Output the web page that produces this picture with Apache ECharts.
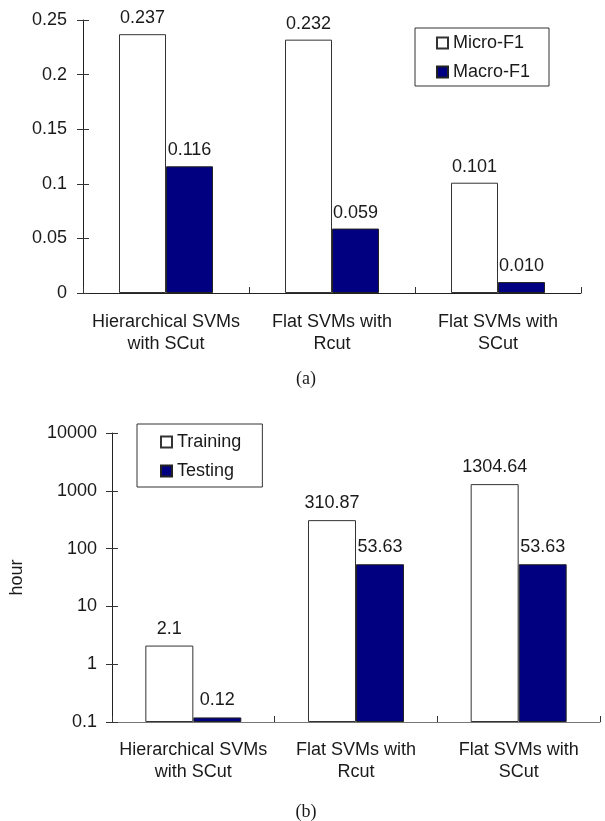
<!DOCTYPE html>
<html>
<head>
<meta charset="utf-8">
<script src="https://cdn.jsdelivr.net/npm/echarts@6/dist/echarts.min.js"></script>
<style>
  body { margin: 0; background: #fff; }
  #main { width: 605px; height: 821px; }
</style>
</head>
<body>
<div id="main"></div>
<script>
var categories = ['Hierarchical SVMs\nwith SCut', 'Flat SVMs with\nRcut', 'Flat SVMs with\nSCut'];

// (a) F1 scores
var microF1 = [0.237, 0.232, 0.101];
var macroF1 = [0.116, 0.059, 0.010];

// (b) time in hours
var training = [2.1, 310.87, 1304.64];
var testing = [0.12, 53.63, 53.63];

var FONT = 'Liberation Sans';
var TXT = '#1a1a1a';

var myChart = echarts.init(document.getElementById('main'));

// extra axis that only draws the inner half of the crossing ticks
function tickAxis(type, grid, pos, extra) {
    var ax = {
        type: type,
        gridIndex: grid,
        position: pos,
        axisLine: { show: false },
        axisLabel: { show: false },
        splitLine: { show: false },
        axisTick: { show: true, inside: true, length: 6, lineStyle: { color: '#333' } }
    };
    return Object.assign(ax, extra || {});
}

var option = {
    animation: false,
    backgroundColor: '#fff',
    textStyle: { fontFamily: FONT, color: TXT },
    grid: [
        { left: 83, right: 24, top: 20, bottom: 528 },
        { left: 104, right: 5, top: 433, bottom: 99 }
    ],
    legend: [
        {
            data: ['Micro-F1', 'Macro-F1'],
            orient: 'vertical',
            left: 415, top: 28,
            padding: [6, 19, 5, 21],
            itemGap: 11,
            itemWidth: 11, itemHeight: 11,
            icon: 'rect',
            borderColor: '#333', borderWidth: 1,
            textStyle: { fontFamily: FONT, fontSize: 18, color: TXT }
        },
        {
            data: ['Training', 'Testing'],
            orient: 'vertical',
            left: 137, top: 424,
            padding: [9, 21, 7, 23],
            itemGap: 11,
            itemWidth: 11, itemHeight: 11,
            icon: 'rect',
            borderColor: '#333', borderWidth: 1,
            textStyle: { fontFamily: FONT, fontSize: 18, color: TXT }
        }
    ],
    xAxis: [
        {
            type: 'category', gridIndex: 0, data: categories,
            axisLine: { lineStyle: { color: '#222' } },
            axisTick: { length: 6, lineStyle: { color: '#333' } },
            axisLabel: { fontSize: 18, color: TXT, margin: 18, lineHeight: 22, interval: 0 }
        },
        tickAxis('category', 0, 'bottom', { data: categories }),
        {
            type: 'category', gridIndex: 1, data: categories,
            axisLine: { lineStyle: { color: '#777' } },
            axisTick: { length: 6, lineStyle: { color: '#333' } },
            axisLabel: { fontSize: 18, color: TXT, margin: 17, lineHeight: 22, interval: 0 }
        },
        tickAxis('category', 1, 'bottom', { data: categories })
    ],
    yAxis: [
        {
            type: 'value', gridIndex: 0, min: 0, max: 0.25, interval: 0.05,
            axisLine: { show: true, lineStyle: { color: '#222' } },
            axisTick: { show: true, length: 6, lineStyle: { color: '#333' } },
            splitLine: { show: false },
            axisLabel: { fontSize: 18, color: TXT, margin: 16 }
        },
        tickAxis('value', 0, 'left', { min: 0, max: 0.25, interval: 0.05 }),
        {
            type: 'log', gridIndex: 1, logBase: 10, min: 0.1, max: 10000, startValue: 0.1,
            name: 'hour', nameLocation: 'middle', nameGap: 86, nameRotate: 90,
            nameTextStyle: { fontSize: 18, color: TXT, fontFamily: FONT },
            axisLine: { show: true, lineStyle: { color: '#222' } },
            axisTick: { show: true, length: 6, lineStyle: { color: '#333' } },
            splitLine: { show: false },
            axisLabel: {
                fontSize: 18, color: TXT, margin: 15,
                formatter: function (v) { return String(Number(v.toPrecision(6))); }
            }
        },
        tickAxis('log', 1, 'left', { logBase: 10, min: 0.1, max: 10000 })
    ],
    series: [
        {
            name: 'Micro-F1', type: 'bar', xAxisIndex: 0, yAxisIndex: 0,
            data: microF1, barWidth: 47, barGap: '0%',
            itemStyle: { color: '#fff', borderColor: '#333', borderWidth: 1 },
            label: { show: true, position: 'top', distance: 7, fontSize: 18, color: TXT,
                     formatter: function (p) { return p.value.toFixed(3); } }
        },
        {
            name: 'Macro-F1', type: 'bar', xAxisIndex: 0, yAxisIndex: 0,
            data: macroF1, barWidth: 47, barGap: '0%',
            itemStyle: { color: '#000080', borderColor: '#222', borderWidth: 1 },
            label: { show: true, position: 'top', distance: 7, fontSize: 18, color: TXT,
                     formatter: function (p) { return p.value.toFixed(3); } }
        },
        {
            name: 'Training', type: 'bar', xAxisIndex: 2, yAxisIndex: 2,
            data: training, barWidth: 48, barGap: '0%',
            itemStyle: { color: '#fff', borderColor: '#333', borderWidth: 1 },
            label: { show: true, position: 'top', distance: 8, fontSize: 18, color: TXT }
        },
        {
            name: 'Testing', type: 'bar', xAxisIndex: 2, yAxisIndex: 2,
            data: testing, barWidth: 48, barGap: '0%',
            itemStyle: { color: '#000080', borderColor: '#222', borderWidth: 1 },
            label: { show: true, position: 'top', distance: 8, fontSize: 18, color: TXT }
        }
    ],
    graphic: [
        { type: 'text', x: 306, y: 379,
          style: { text: '(a)', font: '18px "Liberation Serif"', fill: TXT, align: 'center', verticalAlign: 'middle' } },
        { type: 'text', x: 306, y: 812,
          style: { text: '(b)', font: '18px "Liberation Serif"', fill: TXT, align: 'center', verticalAlign: 'middle' } }
    ]
};

myChart.setOption(option);
</script>
</body>
</html>
